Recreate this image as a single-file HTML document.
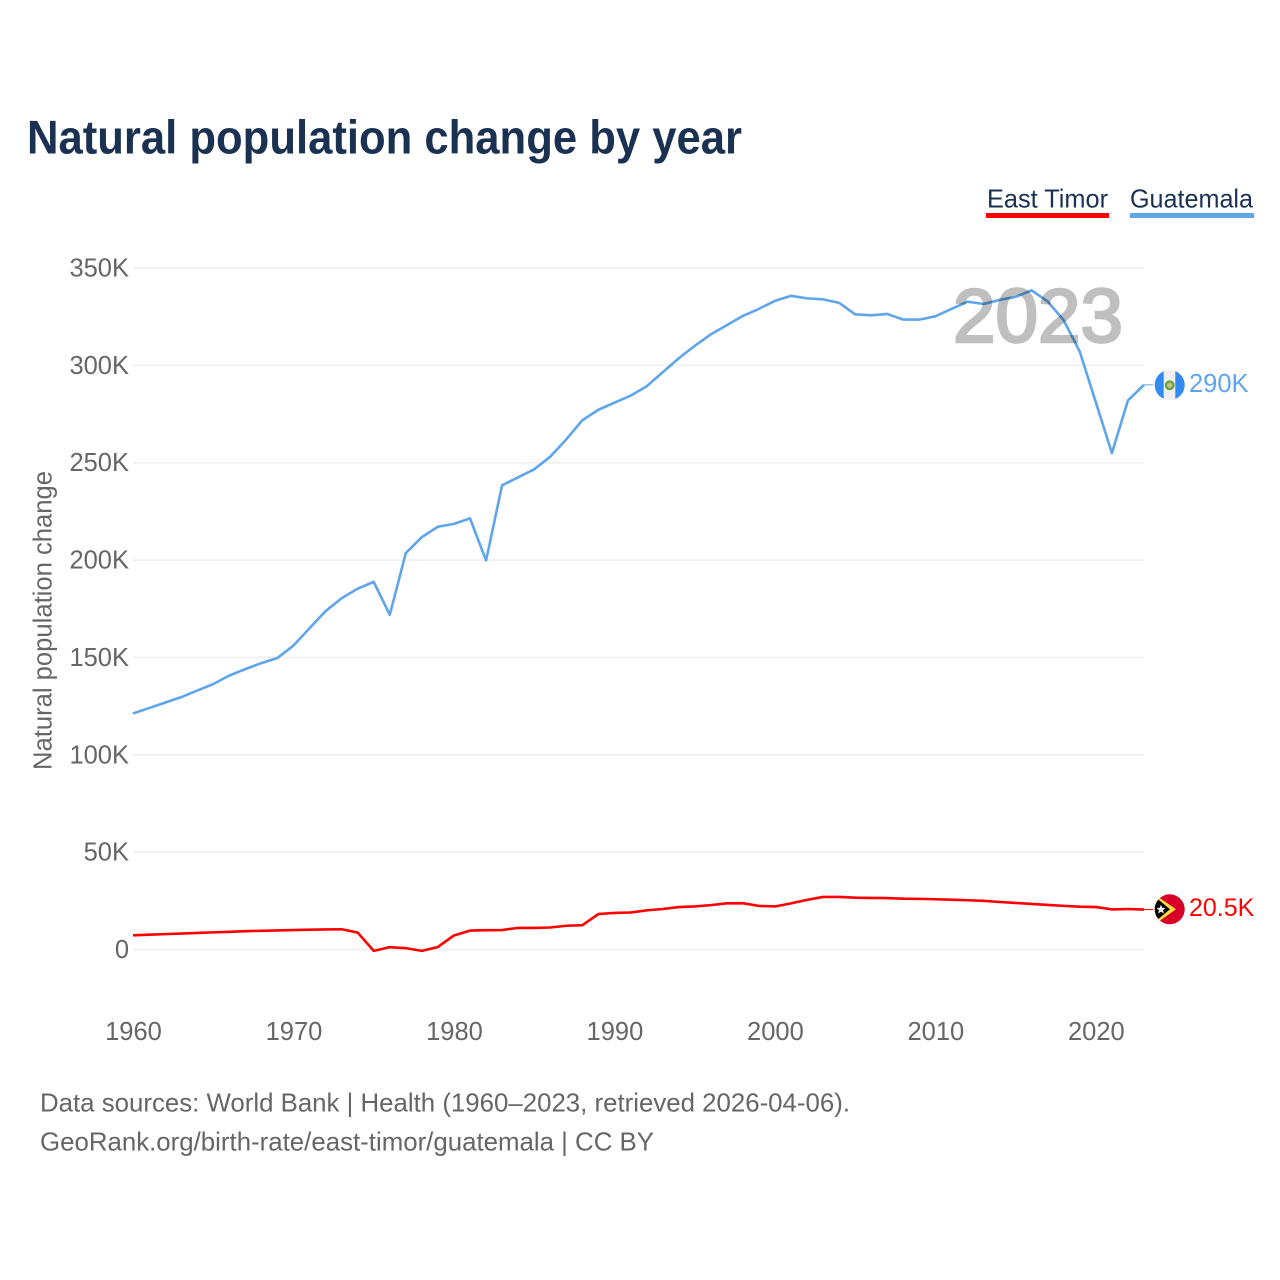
<!DOCTYPE html>
<html lang="en">
<head>
<meta charset="utf-8">
<title>Natural population change by year</title>
<style>
html,body{margin:0;padding:0;background:#fff;}
#wrap{width:1280px;height:1280px;position:relative;overflow:hidden;background:#fff;}
svg{display:block;font-family:"Liberation Sans",sans-serif;}
</style>
</head>
<body>
<div id="wrap">
<svg id="chart" width="1280" height="1280" viewBox="0 0 1280 1280" xmlns="http://www.w3.org/2000/svg">
  <defs>
    <clipPath id="flag-clip-gt"><circle cx="1169.7" cy="385" r="15"/></clipPath>
    <clipPath id="flag-clip-tl"><circle cx="1169.7" cy="909.3" r="15"/></clipPath>
  </defs>
  <text x="27" y="153.5" font-size="47" font-weight="700" fill="#1a3152" textLength="715" lengthAdjust="spacingAndGlyphs">Natural population change by year</text>

  <g>
    <g>
      <text x="987" y="207.5" font-size="26" fill="#1a3152" textLength="121" lengthAdjust="spacingAndGlyphs">East Timor</text>
      <rect x="986" y="213" width="123" height="5" fill="#ff0000"/>
    </g>
    <g>
      <text x="1130" y="207.5" font-size="26" fill="#1a3152" textLength="123" lengthAdjust="spacingAndGlyphs">Guatemala</text>
      <rect x="1130" y="213" width="124" height="5" fill="#5fa5ec"/>
    </g>
  </g>

  <g id="grid"></g>
  <g id="yticks"></g>
  <g id="xticks"></g>
  <text transform="translate(51.5 770) rotate(-90)" font-size="25.5" fill="#666666" textLength="299" lengthAdjust="spacingAndGlyphs">Natural population change</text>

  <g id="series"></g>

  <text x="953" y="342" font-size="76" font-weight="400" fill="#bfbfbf" stroke="#bfbfbf" stroke-width="2.6" textLength="170" lengthAdjust="spacingAndGlyphs" style="mix-blend-mode:multiply">2023</text>

  <g clip-path="url(#flag-clip-gt)">
    <rect x="1154" y="369" width="32" height="32" fill="#f0f0f0"/>
    <rect x="1154" y="369" width="9.7" height="32" fill="#338af3"/>
    <rect x="1175.3" y="369" width="10.7" height="32" fill="#338af3"/>
    <circle cx="1169.7" cy="385.3" r="3.8" fill="#c9c38a" stroke="#6da544" stroke-width="2.4"/>
  </g>
  <g clip-path="url(#flag-clip-tl)">
    <rect x="1154" y="893" width="32" height="32" fill="#d80027"/>
    <polygon points="1154,894 1176,909.3 1154,925" fill="#ffda44"/>
    <polygon points="1154,896 1170,909.3 1154,922.5" fill="#000000"/>
    <polygon points="1161,904.5 1162.2,907.8 1165.5,908 1163,910.2 1164,913.5 1161,911.7 1158,913.5 1159,910.2 1156.5,908 1159.8,907.8" fill="#f0f0f0"/>
  </g>
  <text x="1189" y="392" font-size="25.5" fill="#5fa5ec">290K</text>
  <text x="1189" y="916" font-size="25" fill="#ff0000">20.5K</text>

  <text x="40" y="1111.5" font-size="25.7" fill="#666666" textLength="810" lengthAdjust="spacingAndGlyphs">Data sources: World Bank | Health (1960–2023, retrieved 2026-04-06).</text>
  <text x="40" y="1150.5" font-size="25.7" fill="#666666" textLength="614" lengthAdjust="spacingAndGlyphs">GeoRank.org/birth-rate/east-timor/guatemala | CC BY</text>
</svg>
</div>
<script>
const firstYear = 1960;
const lastYear = 2023;
const xTickYears = [1960, 1970, 1980, 1990, 2000, 2010, 2020];
const yTickValues = [0, 50, 100, 150, 200, 250, 300, 350];
const yTickLabels = ["0", "50K", "100K", "150K", "200K", "250K", "300K", "350K"];
// Values in thousands, one per year 1960–2023
const guatemala = [
  121.2, 124, 126.8, 129.6, 133, 136.3, 140.7, 144, 147.1, 149.7,
  156.1, 165, 173.8, 180.4, 185.3, 188.8, 171.9, 203.6, 211.8, 217.1,
  218.6, 221.4, 199.8, 238.4, 242.5, 246.6, 253.1, 262, 271.8, 277.2,
  280.8, 284.4, 289.2, 296.4, 303.6, 310, 315.9, 320.6, 325.4, 329,
  333.1, 335.7, 334.4, 333.9, 332.1, 326.2, 325.7, 326.4, 323.5, 323.5,
  325.2, 329, 332.7, 331.5, 333.6, 335.2, 338.5, 332.8, 323.1, 307,
  281, 254.9, 282, 290
];
const eastTimor = [
  7.3, 7.6, 7.9, 8.2, 8.5, 8.8, 9.1, 9.4, 9.6, 9.8,
  10, 10.2, 10.3, 10.4, 8.7, -0.7, 1.2, 0.7, -0.7, 1.3,
  7.2, 9.7, 9.9, 10, 11.1, 11.1, 11.3, 12.2, 12.5, 18.2,
  18.8, 19, 20.1, 20.8, 21.8, 22.1, 22.8, 23.7, 23.8, 22.4,
  22.1, 23.7, 25.5, 27, 27, 26.6, 26.5, 26.4, 26.1, 26,
  25.8, 25.6, 25.3, 25, 24.4, 23.9, 23.4, 22.9, 22.4, 22,
  21.8, 20.6, 20.8, 20.5
];

const svgNS = "http://www.w3.org/2000/svg";
const xPos = function (year) { return 133 + (year - firstYear) * (1144 - 133) / (lastYear - firstYear); };
const yPos = function (v) { return 949.5 - v * (949.5 - 268) / 350; };

const gridGroup = document.getElementById("grid");
const yTickGroup = document.getElementById("yticks");
const xTickGroup = document.getElementById("xticks");
const seriesGroup = document.getElementById("series");

yTickValues.forEach(function (v, i) {
  const line = document.createElementNS(svgNS, "line");
  line.setAttribute("x1", 133);
  line.setAttribute("x2", 1144);
  line.setAttribute("y1", yPos(v));
  line.setAttribute("y2", yPos(v));
  line.setAttribute("stroke", "#eeeeee");
  line.setAttribute("stroke-width", "1.5");
  
  
  gridGroup.appendChild(line);

  const label = document.createElementNS(svgNS, "text");
  label.setAttribute("x", 129);
  label.setAttribute("y", yPos(v) + 8.5);
  label.setAttribute("text-anchor", "end");
  label.setAttribute("font-size", "25.5");
  label.setAttribute("fill", "#666666");
  
  
  label.textContent = yTickLabels[i];
  yTickGroup.appendChild(label);
});

xTickYears.forEach(function (year) {
  const label = document.createElementNS(svgNS, "text");
  label.setAttribute("x", xPos(year) + 0.5);
  label.setAttribute("y", 1040);
  label.setAttribute("text-anchor", "middle");
  label.setAttribute("font-size", "25.5");
  label.setAttribute("fill", "#666666");
  
  
  label.textContent = String(year);
  xTickGroup.appendChild(label);
});

function linePoints(values) {
  return values.map(function (v, i) {
    return xPos(firstYear + i).toFixed(2) + "," + yPos(v).toFixed(2);
  }).join(" ");
}

const guatemalaLine = document.createElementNS(svgNS, "polyline");
guatemalaLine.setAttribute("points", linePoints(guatemala));
guatemalaLine.setAttribute("fill", "none");
guatemalaLine.setAttribute("stroke", "#5fa5ec");
guatemalaLine.setAttribute("stroke-width", "2.6");
guatemalaLine.setAttribute("stroke-linejoin", "round");


seriesGroup.appendChild(guatemalaLine);

const eastTimorLine = document.createElementNS(svgNS, "polyline");
eastTimorLine.setAttribute("points", linePoints(eastTimor));
eastTimorLine.setAttribute("fill", "none");
eastTimorLine.setAttribute("stroke", "#ff0000");
eastTimorLine.setAttribute("stroke-width", "2.6");
eastTimorLine.setAttribute("stroke-linejoin", "round");


seriesGroup.appendChild(eastTimorLine);

const guatemalaConnector = document.createElementNS(svgNS, "line");
guatemalaConnector.setAttribute("x1", xPos(lastYear));
guatemalaConnector.setAttribute("x2", 1153);
guatemalaConnector.setAttribute("y1", yPos(guatemala[guatemala.length - 1]));
guatemalaConnector.setAttribute("y2", yPos(guatemala[guatemala.length - 1]));
guatemalaConnector.setAttribute("stroke", "#5fa5ec");
guatemalaConnector.setAttribute("stroke-width", "1");


seriesGroup.appendChild(guatemalaConnector);

const eastTimorConnector = document.createElementNS(svgNS, "line");
eastTimorConnector.setAttribute("x1", xPos(lastYear));
eastTimorConnector.setAttribute("x2", 1153);
eastTimorConnector.setAttribute("y1", yPos(eastTimor[eastTimor.length - 1]));
eastTimorConnector.setAttribute("y2", yPos(eastTimor[eastTimor.length - 1]));
eastTimorConnector.setAttribute("stroke", "#ff0000");
eastTimorConnector.setAttribute("stroke-width", "1");


seriesGroup.appendChild(eastTimorConnector);
</script>
</body>
</html>
